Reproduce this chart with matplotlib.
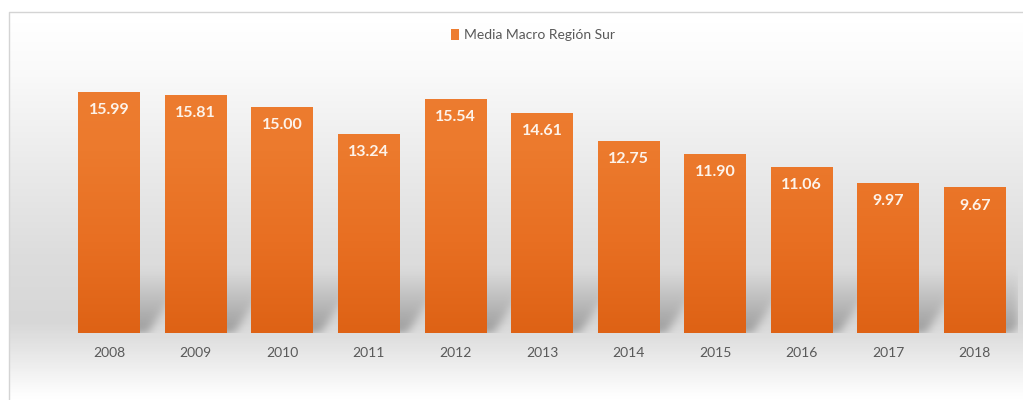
import matplotlib
matplotlib.use('Agg')
import matplotlib.pyplot as plt
import numpy as np
from matplotlib.colors import LinearSegmentedColormap, to_rgb
from matplotlib.patches import Rectangle

# data
years = ['2008', '2009', '2010', '2011', '2012', '2013', '2014', '2015', '2016', '2017', '2018']
values = [15.99, 15.81, 15.00, 13.24, 15.54, 14.61, 12.75, 11.90, 11.06, 9.97, 9.67]
series_name = 'Media Macro Región Sur'

plt.rcParams['font.family'] = ['Lato', 'DejaVu Sans']

W, H = 1023, 400
fig = plt.figure(figsize=(W / 100, H / 100), dpi=100)

# background gradient + border
bg = fig.add_axes([0, 0, 1, 1], zorder=-10)
bg.set_xlim(0, W)
bg.set_ylim(H, 0)
bg.axis('off')
stops = [(0, '#ffffff'), (11, '#ffffff'), (60, '#fafafa'), (150, '#ececec'),
         (250, '#dddddd'), (320, '#d7d7d7'), (350, '#e6e6e6'), (390, '#fbfbfb'), (400, '#ffffff')]
bg_cmap = LinearSegmentedColormap.from_list('bg', [(p / H, c) for p, c in stops])
grad = np.linspace(0, 1, 400).reshape(-1, 1)
bg.imshow(grad, cmap=bg_cmap, aspect='auto', extent=[8, W, H, 11], vmin=0, vmax=1)
bg.add_patch(Rectangle((0, 0), 8, H, color='white', zorder=2))
bg.plot([8.5, 8.5, W], [H, 11.5, 11.5], color='#d4d4d4', lw=1, zorder=3)

ax = fig.add_axes([66 / W, 1 - 333 / H, 952 / W, 273 / H])
ax.patch.set_alpha(0)
x = np.arange(len(years))
width = 0.715
ymax = 18.14
ax.set_xlim(-0.5, len(years) - 0.5)
ax.set_ylim(0, ymax)

bars = ax.bar(x, values, width=width, color='#ED7D31', label=series_name, zorder=2)

# soft skewed shadow behind each bar, rendered as a blurred raster
ox, dx, sh = 0.08, 0.5, 4.3
ny, nx, pad = 120, 952, 20
ygrid = np.linspace(-1.2, 6.0, ny + pad)
xgrid = np.linspace(-0.5, len(years) - 0.5, nx)
XX, YY = np.meshgrid(xgrid, ygrid)
t = np.clip(YY / sh, 0, 1)
inten = np.zeros_like(XX)
for b in bars:
    x0 = b.get_x() + ox + dx * t
    x1 = b.get_x() + b.get_width() + ox + dx * t
    inside = (XX >= x0) & (XX <= x1) & (YY >= 0) & (YY <= sh)
    inten = np.maximum(inten, np.where(inside, (1 - t) ** 1.1, 0))

def blur(a, sigma):
    r = int(3 * sigma)
    k = np.exp(-0.5 * (np.arange(-r, r + 1) / sigma) ** 2)
    k /= k.sum()
    a = np.apply_along_axis(lambda row: np.convolve(row, k, mode='same'), 1, a)
    a = np.apply_along_axis(lambda col: np.convolve(col, k, mode='same'), 0, a)
    return a

inten = blur(inten, 4.5)
keep = ygrid >= 0
inten = inten[keep]
rgba = np.zeros(inten.shape + (4,))
rgba[..., :3] = to_rgb('#777777')
rgba[..., 3] = 0.62 * inten
ax.imshow(rgba, origin='lower', aspect='auto', interpolation='bilinear',
          extent=[-0.5, len(years) - 0.5, 0, ygrid[keep][-1]], zorder=1)
ax.set_xlim(-0.5, len(years) - 0.5)
ax.set_ylim(0, ymax)

bar_cmap = LinearSegmentedColormap.from_list('bar', ['#DE6215', '#E86F22', '#EC7A2D', '#ED7D31'])
bgrad = np.linspace(0, 1, 256).reshape(-1, 1)
for b in bars:
    im = ax.imshow(bgrad, cmap=bar_cmap, aspect='auto', origin='lower',
                   extent=[b.get_x(), b.get_x() + b.get_width(), 0, ymax], zorder=3)
    im.set_clip_path(b)

for xi, v in zip(x, values):
    ax.annotate(f'{v:.2f}', (xi, v), xytext=(0, -8), textcoords='offset points',
                ha='center', va='top', color='#fdf3ea', fontsize=11.5, fontweight='bold', zorder=5)

for s in ax.spines.values():
    s.set_visible(False)
ax.set_yticks([])
ax.set_xticks(x)
ax.set_xticklabels(years, color='#595959', fontsize=10)
ax.tick_params(axis='x', length=0, pad=10)

fig.legend(handles=[bars], labels=[series_name], loc='center',
           bbox_to_anchor=(533 / W, 1 - 35 / H), frameon=False, fontsize=10,
           handlelength=0.6, handleheight=0.8, handletextpad=0.4, labelcolor='#595959')

fig.savefig('out.png', dpi=100)
